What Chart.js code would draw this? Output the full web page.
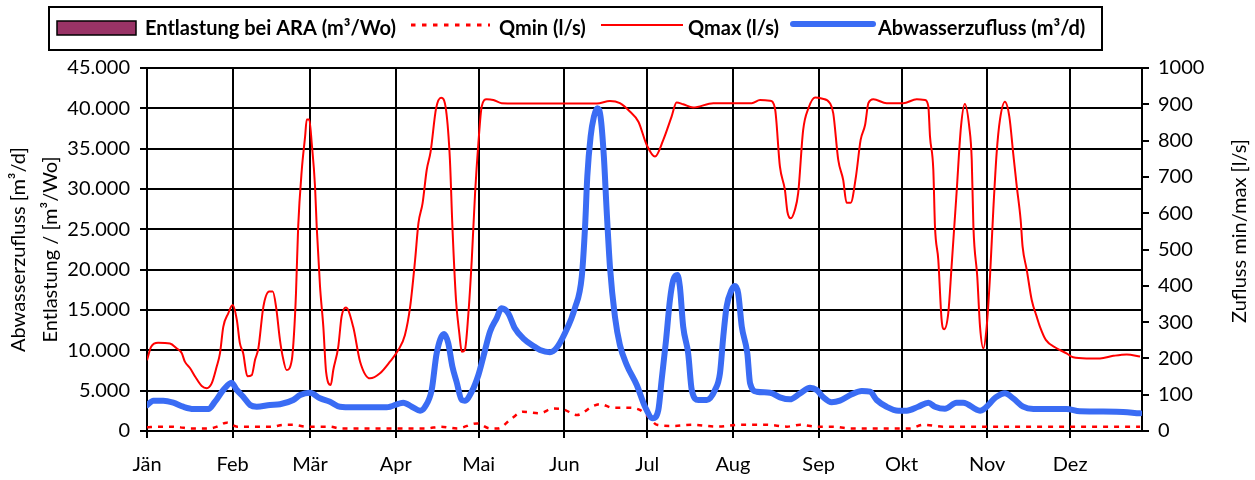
<!DOCTYPE html>
<html>
<head>
<meta charset="utf-8">
<title>Abwasserzufluss</title>
<script src="https://cdn.jsdelivr.net/npm/chart.js@4.4.0/dist/chart.umd.min.js"></script>
<style>
    html, body { margin: 0; padding: 0; background: #fff; }
    #wrap { width: 1255px; height: 480px; }
</style>
</head>
<body>
<div id="wrap"><canvas id="zuflussChart" width="1255" height="480"></canvas></div>
<script>
// x axis: day of year, one tick per month start
const monthStarts = [0, 31, 59, 90, 120, 151, 181, 212, 243, 273, 304, 334];
const monthLabels = ['Jän', 'Feb', 'Mär', 'Apr', 'Mai', 'Jun', 'Jul', 'Aug', 'Sep', 'Okt', 'Nov', 'Dez'];

// Entlastung bei ARA (m³/Wo) - no overflow events this year
const entlastungDays = [];
const entlastungValues = [];

// Qmin (l/s)
const qminDays = [0, 4, 8.3, 12, 15.6, 22.8, 25.3, 28.9, 32.6, 45.6, 49.2, 52.8, 57.9, 66.2, 69.8, 101.3, 106, 112.2,
    119.4, 124.1, 127, 132, 136, 142.2, 146.9, 150.5, 155.6, 161.4, 163.9, 168.6, 174.7, 178.3, 181.9, 184.5, 190.3,
    197.5, 206.2, 214.5, 224.3, 231.5, 236.3, 242.4, 248.2, 254.3, 276, 280.8, 288, 359.3];
const qminValues = [10, 12, 12, 10, 7, 7, 12, 23, 12, 12, 17, 17, 12, 12, 7, 7, 12, 7,
    21, 7, 7, 35, 53, 49, 62, 60, 44, 69, 74, 64, 64, 58, 35, 17, 14,
    17, 12, 17, 17, 12, 17, 12, 12, 7, 7, 17, 12, 12];

// Qmax (l/s)
const qmaxDays = [0, 1.5, 4, 8.3, 10.7, 12.6, 13.7, 15.6, 17.4, 19.8, 21.6, 23.4, 25.2, 26.4, 27.6, 29.4, 31, 32.5,
    33.6, 34.8, 36.3, 37.9, 39.1, 40.3, 42.1, 44.2, 45.5, 46.7, 48.1, 49.1, 50.5, 52.4, 53.2, 53.9, 54.7, 56, 57.2,
    57.8, 58.7, 59.6, 60.8, 61.4, 62.6, 63.8, 64.8, 66.5, 67.4, 69.2, 70.4, 72, 74.6, 77.1, 80.7, 84.3, 87.9, 90.9,
    93.3, 95.2, 97, 98.2, 99.7, 101.2, 102.6, 104.6, 106.4, 108.2, 109.6, 110.5, 111.8, 113, 113.9, 115, 116.2,
    117.5, 118.7, 119.9, 121.1, 122.9, 125.3, 128.3, 140, 152, 162.8, 167.5, 171.1, 174.7, 177.8, 180.8, 183.8,
    186.8, 189.8, 191.6, 194, 197.6, 204.9, 218.8, 221.8, 225.4, 227.2, 229, 230.8, 231.7, 232.9, 234.4, 235.6,
    237.4, 239.3, 241.7, 244.1, 247.1, 248.3, 250.1, 251.9, 253.1, 254.6, 256.5, 258.2, 259.8, 261, 262.8, 267.6,
    273.6, 278.5, 281.5, 282.7, 283.3, 284.5, 285.1, 286.3, 287.5, 288.4, 289.9, 291.1, 292.9, 294.5, 295.9, 297.5,
    298.4, 299, 300.4, 301.4, 302.6, 303.8, 305, 306.2, 307.4, 308.6, 310.4, 312, 313.4, 314.7, 316.1, 316.8,
    318.3, 320.1, 321.9, 323.1, 325.2, 329.1, 332.7, 335.1, 339.9, 344.8, 349.6, 354.5, 359.3];
const qmaxValues = [195, 232, 243, 241, 228, 214, 191, 173, 150, 124, 118, 131, 177, 214, 287, 324, 347, 306,
    242, 214, 151, 154, 196, 228, 342, 384, 384, 342, 251, 205, 168, 196, 269, 379, 563, 719, 811,
    858, 858, 793, 673, 563, 398, 287, 163, 127, 168, 232, 315, 340, 287, 191, 145, 159, 191, 223,
    264, 342, 471, 572, 627, 719, 769, 889, 918, 884, 747, 563, 361, 269, 218, 223, 315,
    471, 655, 793, 894, 914, 912, 903, 902, 902, 902, 909, 903, 880, 852, 788, 756,
    802, 866, 905, 900, 891, 903, 903, 912, 910, 889, 728, 664, 604, 586, 609, 655,
    829, 889, 919, 916, 903, 875, 747, 691, 629, 629, 701, 802, 843, 903, 914, 903,
    903, 914, 912, 894, 811, 719, 563, 471, 306, 280, 324, 453, 655, 838, 901, 838,
    747, 563, 425, 287, 228, 287, 425, 609, 765, 857, 907, 866, 765, 673, 581, 508,
    444, 361, 315, 287, 251, 228, 214, 203, 200, 200, 207, 211, 205];

// Abwasserzufluss (m³/d)
const flowDays = [0, 2.3, 5.9, 9.5, 13.1, 16.8, 22.2, 24.6, 27.6, 30.6, 32.5, 34.8, 37.3, 39.7, 44.5, 48.1, 52.9,
    55.4, 59, 62.6, 66.2, 69.8, 74.6, 86.7, 92.7, 95.8, 98.8, 100.6, 103, 104.8, 107.5, 109, 110.5, 112, 113.9,
    115, 117.5, 119.9, 121.7, 124.1, 126.5, 128.3, 130.7, 133.1, 136.1, 139.8, 142.2, 145.8, 148.2, 151.2, 154.8,
    157.3, 158.5, 159.3, 160.5, 161.7, 162.9, 164.1, 165.3, 166.3, 167.5, 169.3, 171.1, 173.6, 177.2, 180.2, 183,
    185, 186.2, 187.8, 189.2, 190.4, 191.9, 192.8, 194, 195.8, 197.1, 199.5, 202.5, 205.5, 207.3, 208.5, 209.7,
    211.5, 212.7, 213.9, 215.2, 217.2, 218.2, 220.6, 225.4, 229, 232.6, 236.3, 239.9, 242.3, 244.7, 247.7, 250.7,
    255, 258.6, 261.6, 264, 267.6, 271.8, 274.9, 279, 282.7, 285.1, 288.7, 292.9, 295.3, 301.4, 307.4, 310.4,
    313.4, 317, 320.7, 332.7, 337.5, 350.8, 359.3];
const flowValues = [3200, 3760, 3760, 3510, 3010, 2730, 2730, 3630, 5080, 5990, 5080, 4250, 3220, 3010, 3220, 3310, 3840,
    4460, 4750, 4050, 3630, 3010, 2940, 2940, 3510, 3010, 2520, 3010, 5080, 9630, 12030, 10870, 7970, 6110, 3840,
    3760, 4870, 6940, 9210, 12310, 13970, 15210, 14590, 12730, 11490, 10540, 10040, 9760, 10300, 12110, 15210,
    19130, 25330, 31530, 36490, 38970, 40000, 38970, 34000, 27400, 20370, 14170, 10660, 8180, 5700, 3010, 1570,
    2600, 6320, 11280, 16240, 18720, 19340, 17890, 12930, 9630, 5080, 3840, 3840, 5080, 7150, 11690, 15410,
    17480, 17980, 17070, 12930, 9630, 5910, 4870, 4750, 4180, 3930, 4670, 5370, 5080, 4180, 3560, 3760,
    4550, 4960, 4870, 3840, 3010, 2520, 2520, 3010, 3510, 3010, 2750, 3510, 3510, 2520, 4250, 4670,
    4050, 3010, 2730, 2730, 2440, 2390, 2190];

function toPoints(days, values) {
    return days.map((d, i) => ({ x: d, y: values[i] }));
}

function formatThousands(v) {
    return String(v).replace(/\B(?=(\d{3})+(?!\d))/g, '.');
}

const FONT = 'Lato';
Chart.defaults.font.family = FONT;
Chart.defaults.color = '#000';

// framed legend row above the plot
const legendBox = {
    id: 'legendBox',
    afterDraw(chart) {
        const ctx = chart.ctx;
        const [entl, qmin, qmax, flow] = chart.data.datasets;
        ctx.save();
        ctx.strokeStyle = '#000';
        ctx.lineWidth = 2;
        ctx.strokeRect(49, 7, 1053, 43);

        ctx.fillStyle = entl.backgroundColor;
        ctx.fillRect(57, 21, 79, 14);
        ctx.lineWidth = 1.5;
        ctx.strokeRect(57, 21, 79, 14);

        ctx.strokeStyle = qmin.borderColor;
        ctx.lineWidth = 3;
        ctx.setLineDash([4.5, 6.5]);
        ctx.beginPath(); ctx.moveTo(411, 25); ctx.lineTo(490, 25); ctx.stroke();
        ctx.setLineDash([]);

        ctx.strokeStyle = qmax.borderColor;
        ctx.lineWidth = 2;
        ctx.beginPath(); ctx.moveTo(601, 25); ctx.lineTo(683, 25); ctx.stroke();

        ctx.strokeStyle = flow.borderColor;
        ctx.lineWidth = 6;
        ctx.lineCap = 'round';
        ctx.beginPath(); ctx.moveTo(793, 24); ctx.lineTo(873, 24); ctx.stroke();

        ctx.fillStyle = '#000';
        ctx.font = 'bold 20px ' + FONT;
        ctx.textBaseline = 'alphabetic';
        ctx.fillText(entl.label, 145, 35);
        ctx.fillText(qmin.label, 499, 35);
        ctx.fillText(qmax.label, 688, 35);
        ctx.fillText(flow.label, 878, 35);
        ctx.restore();
    }
};

// right axis title reads bottom to top
const rightTitle = {
    id: 'rightTitle',
    afterDraw(chart) {
        const ctx = chart.ctx;
        ctx.save();
        ctx.translate(1240, 231);
        ctx.rotate(-Math.PI / 2);
        ctx.font = '20px ' + FONT;
        ctx.fillStyle = '#000';
        ctx.textAlign = 'center';
        ctx.textBaseline = 'middle';
        ctx.fillText('Zufluss min/max [l/s]', 0, 0);
        ctx.restore();
    }
};

const ctx = document.getElementById('zuflussChart');
new Chart(ctx, {
    type: 'line',
    data: {
        datasets: [
            {
                type: 'bar',
                label: 'Entlastung bei ARA (m³/Wo)',
                data: toPoints(entlastungDays, entlastungValues),
                backgroundColor: '#993366',
                borderColor: '#000',
                borderWidth: 1,
                yAxisID: 'yLeft',
                order: 2
            },
            {
                label: 'Qmin (l/s)',
                data: toPoints(qminDays, qminValues),
                borderColor: '#ff0000',
                borderWidth: 2.5,
                borderDash: [5, 6],
                pointRadius: 0,
                cubicInterpolationMode: 'monotone',
                yAxisID: 'yRight',
                order: 1
            },
            {
                label: 'Qmax (l/s)',
                data: toPoints(qmaxDays, qmaxValues),
                borderColor: '#ff0000',
                borderWidth: 2,
                pointRadius: 0,
                cubicInterpolationMode: 'monotone',
                yAxisID: 'yRight',
                order: 1
            },
            {
                label: 'Abwasserzufluss (m³/d)',
                data: toPoints(flowDays, flowValues),
                borderColor: '#3a6cf4',
                borderWidth: 6,
                borderCapStyle: 'round',
                borderJoinStyle: 'round',
                pointRadius: 0,
                cubicInterpolationMode: 'monotone',
                yAxisID: 'yLeft',
                order: 0
            }
        ]
    },
    options: {
        responsive: false,
        animation: false,
        devicePixelRatio: 1,
        layout: { padding: { top: 68, left: 0, right: 0, bottom: 0 } },
        plugins: {
            legend: { display: false },
            tooltip: { enabled: false }
        },
        scales: {
            x: {
                type: 'linear',
                min: 0,
                max: 360,
                offset: false,
                afterBuildTicks: scale => { scale.ticks = monthStarts.map(v => ({ value: v })); },
                afterFit: scale => { scale.height = 49; },
                grid: { offset: false, color: '#000', lineWidth: 2, tickLength: 7, tickColor: '#000' },
                border: { color: '#000', width: 2 },
                ticks: {
                    autoSkip: false,
                    maxRotation: 0,
                    padding: 15,
                    font: { size: 20 },
                    callback: v => monthLabels[monthStarts.indexOf(v)]
                }
            },
            yLeft: {
                position: 'left',
                min: 0,
                max: 45000,
                afterFit: scale => { scale.width = 147; },
                grid: { color: '#000', lineWidth: 2, tickLength: 7, tickColor: '#000' },
                border: { color: '#000', width: 2 },
                ticks: { stepSize: 5000, padding: 10, font: { size: 20 }, callback: v => formatThousands(v) },
                title: {
                    display: true,
                    text: ['Abwasserzufluss [m³/d]', 'Entlastung / [m³/Wo]'],
                    font: { size: 20, lineHeight: 1.6 },
                    padding: { top: 3, bottom: 0 }
                }
            },
            yRight: {
                position: 'right',
                min: 0,
                max: 1000,
                afterFit: scale => { scale.width = 113; },
                grid: { drawOnChartArea: false, tickLength: 7, tickColor: '#000', lineWidth: 2 },
                border: { color: '#000', width: 2 },
                ticks: { stepSize: 100, padding: 9, font: { size: 20 }, callback: v => String(v) }
            }
        }
    },
    plugins: [legendBox, rightTitle]
});
</script>
</body>
</html>
